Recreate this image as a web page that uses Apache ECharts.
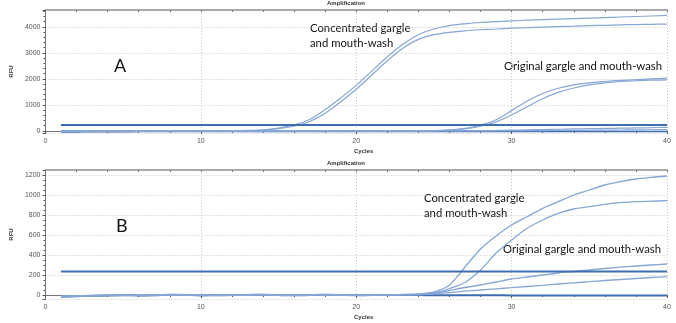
<!DOCTYPE html>
<html>
<head>
<meta charset="utf-8">
<script src="https://cdn.jsdelivr.net/npm/echarts@6/dist/echarts.min.js"></script>
<style>
  html, body { margin: 0; padding: 0; background: #fff; }
  #main { width: 676px; height: 323px; }
</style>
</head>
<body>
<div id="main"></div>
<script>
// cycles 1..40
var cycles = [1,2,3,4,5,6,7,8,9,10,11,12,13,14,15,16,17,18,19,20,21,22,23,24,25,26,27,28,29,30,31,32,33,34,35,36,37,38,39,40];

// ---- panel A ----
var aConcHigh = [0,2,3,3,4,4,5,5,6,7,8,10,20,45,110,230,440,820,1270,1750,2300,2850,3330,3700,3920,4050,4120,4170,4200,4230,4260,4280,4300,4320,4340,4360,4380,4400,4420,4440];
var aConcLow  = [0,1,2,2,3,3,4,4,5,5,6,8,15,35,85,180,360,680,1120,1600,2150,2700,3180,3520,3700,3790,3850,3890,3920,3950,3970,3990,4010,4030,4050,4060,4080,4090,4100,4110];
var aOrigHigh = [0,0,1,1,2,2,2,3,3,3,4,4,4,5,5,6,6,7,7,8,9,10,11,12,15,40,100,220,430,780,1150,1440,1640,1770,1850,1900,1940,1970,2000,2030];
var aOrigLow  = [0,0,0,1,1,1,2,2,2,3,3,3,4,4,4,5,5,5,6,6,7,8,9,10,10,30,80,180,350,610,930,1240,1480,1650,1770,1850,1900,1930,1950,1960];
var aNeg1     = [-20,-15,-12,-10,-8,-6,-5,-4,-3,-2,-2,-1,0,0,1,1,2,2,3,3,4,4,5,5,6,7,8,10,18,30,42,55,65,75,85,95,105,115,125,140];
var aNeg2     = [-30,-25,-22,-20,-18,-16,-15,-14,-13,-12,-12,-11,-10,-10,-9,-9,-8,-8,-7,-7,-6,-6,-5,-5,-4,-3,-2,0,3,6,10,14,18,22,26,30,35,40,45,50];
var aBase     = [-40,-35,-30,-28,-26,-25,-24,-24,-23,-23,-22,-22,-22,-21,-21,-21,-20,-20,-20,-20,-20,-20,-20,-20,-20,-20,-20,-20,-20,-20,-20,-20,-20,-20,-20,-20,-20,-20,-20,-20];
var aThreshold = 230;

// ---- panel B ----
var bConcHigh = [-15,-10,-6,-4,-2,-3,-1,2,0,-3,-2,-1,0,1,-1,-2,0,1,0,-1,0,2,5,12,30,100,280,460,590,700,783,867,933,1000,1050,1100,1133,1160,1177,1190];
var bConcLow  = [-15,-10,-6,-4,-2,-3,-1,2,0,-3,-2,-1,0,1,-1,-2,0,1,0,-1,0,1,4,8,20,65,125,250,420,550,667,750,817,860,883,907,923,933,938,943];
var bOrigHigh = [-15,-10,-6,-4,-2,-3,-1,2,0,-3,-2,-1,0,1,-1,-2,0,1,0,-1,0,1,3,5,15,45,75,100,130,160,180,200,220,235,250,265,278,290,300,310];
var bOrigLow  = [-15,-10,-6,-4,-2,-3,-1,2,0,-3,-2,-1,0,1,-1,-2,0,1,0,-1,0,1,2,4,12,23,38,50,62,73,85,97,110,122,133,145,155,165,175,183];
var bBase     = [-18,-12,-8,-5,-3,-4,-2,3,1,-4,-3,-1,1,2,-1,-3,0,2,0,-2,-1,0,0,-1,-2,-2,-3,-3,-3,-4,-4,-4,-5,-5,-5,-5,-6,-6,-6,-6];
var bThreshold = 235;

var curveColor = '#86a6d6';
var darkBlue = '#3f6eae';
var labelFont = 'Lato';

function pairs(vals) {
    var out = [];
    for (var i = 0; i < cycles.length; i++) out.push([cycles[i], vals[i]]);
    return out;
}
function flat(v) {
    var out = [];
    for (var i = 0; i < cycles.length; i++) out.push([cycles[i], v]);
    return out;
}
function line(name, vals, axis, color, width, z) {
    return {
        name: name, type: 'line', xAxisIndex: axis * 2, yAxisIndex: axis,
        data: pairs(vals), smooth: 0.3, symbol: 'none',
        lineStyle: { color: color, width: width }, z: z || 3
    };
}
function threshold(name, v, axis) {
    return {
        name: name, type: 'line', xAxisIndex: axis * 2, yAxisIndex: axis,
        data: flat(v), symbol: 'none',
        lineStyle: { color: darkBlue, width: 2 }, z: 4
    };
}

var chart = echarts.init(document.getElementById('main'));

function bottomX(grid) {
    return {
        type: 'value', gridIndex: grid, min: 0, max: 40, interval: 10,
        axisLine: { show: true, lineStyle: { color: '#777', width: 1 } },
        axisTick: { show: true, length: 3, lineStyle: { color: '#555' } },
        minorTick: { show: true, splitNumber: 5, length: 2, lineStyle: { color: '#555' } },
        axisLabel: { fontSize: 7, color: '#555', margin: 5, fontFamily: 'Liberation Sans' },
        splitLine: { show: true, lineStyle: { color: '#c8c8c8', type: [1, 2] } }
    };
}
function topX(grid) {
    return {
        type: 'value', gridIndex: grid, position: 'top', min: 0, max: 40, interval: 2,
        axisLine: { show: true, lineStyle: { color: '#aaa', width: 2 } },
        axisTick: { show: true, inside: true, length: 2, lineStyle: { color: '#777' } },
        axisLabel: { show: false }, splitLine: { show: false }
    };
}
function leftY(grid, min, max, split, minor) {
    return {
        type: 'value', gridIndex: grid, min: min, max: max, splitNumber: split,
        name: 'RFU', nameLocation: 'middle', nameRotate: 90, nameGap: 25,
        nameTextStyle: { fontSize: 6, fontWeight: 'bold', color: '#333', fontFamily: 'Liberation Sans' },
        axisLine: { show: true, lineStyle: { color: '#777', width: 1 } },
        axisTick: { show: true, length: 3, lineStyle: { color: '#555' } },
        minorTick: { show: true, splitNumber: minor, length: 2, lineStyle: { color: '#555' } },
        axisLabel: {
            fontSize: 7, color: '#555', margin: 5, showMinLabel: false, showMaxLabel: false,
            fontFamily: 'Liberation Sans',
            formatter: function (v) { return String(v); }
        },
        splitLine: { show: true, lineStyle: { color: '#c8c8c8', type: [1, 2] } }
    };
}
function txt(x, y, s, size) {
    return {
        type: 'text', left: x, top: y,
        style: { text: s, fontSize: size, fontFamily: labelFont, fill: '#111' }
    };
}
function small(x, y, s) {
    return {
        type: 'text', left: x, top: y,
        style: { text: s, fontSize: 6, fontWeight: 'bold', fontFamily: 'Liberation Sans', fill: '#333' }
    };
}

var option = {
    animation: false,
    grid: [
        { left: 31, right: 9, top: 10, height: 123 },
        { left: 31, right: 9, top: 170, height: 129 }
    ],
    xAxis: [bottomX(0), topX(0), bottomX(1), topX(1)],
    yAxis: [leftY(0, -80, 4650, 5, 5), leftY(1, -40, 1250, 6, 4)],
    graphic: [
        small(327, 0, 'Amplification'),
        small(354, 148, 'Cycles'),
        small(327, 160, 'Amplification'),
        small(354, 314, 'Cycles'),
        txt(114, 57, 'A', 18),
        txt(310, 23, 'Concentrated gargle', 11.3),
        txt(310, 38, 'and mouth-wash', 11.3),
        txt(504, 61, 'Original gargle and mouth-wash', 11.3),
        txt(116, 217, 'B', 18),
        txt(424, 193, 'Concentrated gargle', 11.3),
        txt(424, 208, 'and mouth-wash', 11.3),
        txt(503, 244, 'Original gargle and mouth-wash', 11.3)
    ],
    series: [
        line('A base', aBase, 0, darkBlue, 1.6),
        line('A neg 1', aNeg1, 0, curveColor, 1.2),
        line('A neg 2', aNeg2, 0, curveColor, 1.2),
        threshold('A threshold', aThreshold, 0),
        line('A concentrated 1', aConcHigh, 0, curveColor, 1.2),
        line('A concentrated 2', aConcLow, 0, curveColor, 1.2),
        line('A original 1', aOrigHigh, 0, curveColor, 1.2),
        line('A original 2', aOrigLow, 0, curveColor, 1.2),

        line('B base', bBase, 1, darkBlue, 2),
        threshold('B threshold', bThreshold, 1),
        line('B concentrated 1', bConcHigh, 1, curveColor, 1.3),
        line('B concentrated 2', bConcLow, 1, curveColor, 1.3),
        line('B original 1', bOrigHigh, 1, curveColor, 1.3),
        line('B original 2', bOrigLow, 1, curveColor, 1.3)
    ]
};

chart.setOption(option);
</script>
</body>
</html>
